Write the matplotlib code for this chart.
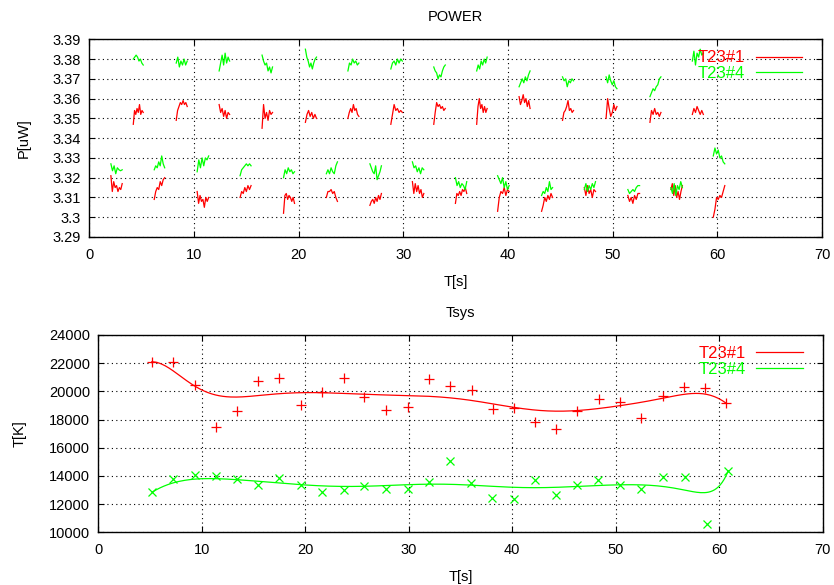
import numpy as np
import matplotlib
matplotlib.use('Agg')
import matplotlib.pyplot as plt
from math import comb

plt.rcParams['font.family'] = ['Liberation Sans', 'DejaVu Sans']
plt.rcParams['font.size'] = 10.5

RED = '#ff0000'
GREEN = '#00ff00'

## POWER data: chopped segments, start/end time [s] and readings [uW]
seg_start = [2.06, 4.2, 6.2, 8.3, 10.3, 12.4, 14.4, 16.5, 18.55, 20.64,
             22.64, 24.7, 26.8, 28.8, 30.86, 32.9, 34.97, 37.0, 39.0, 41.05,
             43.2, 45.2, 47.28, 49.36, 51.44, 53.55, 55.55, 57.6, 59.6]
seg_end = [3.14, 5.15, 7.2, 9.35, 11.4, 13.4, 15.45, 17.5, 19.6, 21.7,
           23.7, 25.75, 27.9, 29.9, 31.95, 34.0, 36.05, 38.0, 40.1, 42.1,
           44.25, 46.25, 48.35, 50.4, 52.56, 54.6, 56.65, 58.65, 60.7]

power_t23_1 = [
    [3.321, 3.313, 3.318, 3.315, 3.316, 3.313, 3.315, 3.314, 3.317],
    [3.347, 3.354, 3.352, 3.355, 3.353, 3.357, 3.352, 3.354, 3.353],
    [3.309, 3.313, 3.315, 3.314, 3.318, 3.316, 3.319, 3.320],
    [3.349, 3.354, 3.356, 3.358, 3.357, 3.359, 3.357, 3.358, 3.356],
    [3.313, 3.307, 3.311, 3.308, 3.309, 3.305, 3.310, 3.308, 3.310],
    [3.357, 3.353, 3.355, 3.351, 3.354, 3.350, 3.353, 3.352],
    [3.310, 3.313, 3.312, 3.315, 3.313, 3.316, 3.314, 3.316],
    [3.345, 3.357, 3.350, 3.353, 3.349, 3.354, 3.352, 3.353],
    [3.302, 3.311, 3.312, 3.309, 3.311, 3.310, 3.308, 3.310, 3.307],
    [3.348, 3.352, 3.354, 3.351, 3.353, 3.350, 3.352, 3.350],
    [3.310, 3.313, 3.313, 3.314, 3.312, 3.313, 3.310, 3.308],
    [3.350, 3.353, 3.355, 3.353, 3.357, 3.354, 3.355, 3.352, 3.351],
    [3.306, 3.308, 3.309, 3.307, 3.310, 3.308, 3.311, 3.309, 3.312],
    [3.347, 3.352, 3.357, 3.354, 3.355, 3.353, 3.354, 3.353],
    [3.318, 3.312, 3.317, 3.313, 3.316, 3.312, 3.314, 3.310, 3.312],
    [3.347, 3.353, 3.358, 3.356, 3.357, 3.355, 3.356, 3.354, 3.355],
    [3.307, 3.312, 3.311, 3.313, 3.311, 3.314, 3.313, 3.315, 3.312],
    [3.347, 3.356, 3.360, 3.355, 3.357, 3.353, 3.356, 3.353, 3.355],
    [3.303, 3.310, 3.313, 3.312, 3.315, 3.311, 3.314, 3.313],
    [3.361, 3.357, 3.359, 3.362, 3.358, 3.360, 3.356, 3.359, 3.355],
    [3.303, 3.306, 3.310, 3.308, 3.311, 3.309, 3.312, 3.310],
    [3.349, 3.353, 3.354, 3.356, 3.359, 3.354, 3.355, 3.353, 3.354],
    [3.315, 3.311, 3.316, 3.312, 3.314, 3.310, 3.314, 3.313],
    [3.350, 3.360, 3.355, 3.351, 3.353, 3.357, 3.354, 3.356],
    [3.311, 3.308, 3.310, 3.307, 3.311, 3.309, 3.312, 3.312],
    [3.348, 3.354, 3.352, 3.355, 3.352, 3.353, 3.351, 3.353],
    [3.314, 3.317, 3.311, 3.316, 3.310, 3.313, 3.309, 3.313, 3.316],
    [3.352, 3.355, 3.353, 3.356, 3.354, 3.352, 3.354, 3.352],
    [3.300, 3.304, 3.310, 3.309, 3.311, 3.310, 3.313, 3.316],
]

power_t23_4 = [
    [3.327, 3.3235, 3.326, 3.322, 3.325, 3.324, 3.3235, 3.324],
    [3.380, 3.381, 3.382, 3.381, 3.379, 3.380, 3.378, 3.377],
    [3.324, 3.326, 3.325, 3.328, 3.326, 3.331, 3.327, 3.325],
    [3.378, 3.381, 3.376, 3.379, 3.377, 3.380, 3.377, 3.379],
    [3.323, 3.329, 3.325, 3.330, 3.326, 3.330, 3.329, 3.331],
    [3.374, 3.378, 3.382, 3.377, 3.383, 3.378, 3.381, 3.379],
    [3.321, 3.324, 3.325, 3.326, 3.327, 3.326, 3.327, 3.326],
    [3.382, 3.379, 3.377, 3.378, 3.374, 3.376, 3.373, 3.376],
    [3.320, 3.324, 3.322, 3.325, 3.323, 3.324, 3.322, 3.323],
    [3.385, 3.381, 3.379, 3.376, 3.378, 3.375, 3.378, 3.380, 3.381],
    [3.322, 3.324, 3.322, 3.325, 3.323, 3.322, 3.326, 3.328],
    [3.374, 3.378, 3.377, 3.380, 3.378, 3.379, 3.377, 3.378],
    [3.327, 3.325, 3.323, 3.322, 3.326, 3.319, 3.321, 3.323, 3.326],
    [3.375, 3.378, 3.379, 3.377, 3.380, 3.378, 3.380, 3.379],
    [3.328, 3.325, 3.326, 3.323, 3.325, 3.322, 3.325, 3.324],
    [3.376, 3.374, 3.373, 3.370, 3.372, 3.371, 3.374, 3.376, 3.377],
    [3.320, 3.316, 3.318, 3.315, 3.317, 3.316, 3.314, 3.318],
    [3.374, 3.377, 3.375, 3.379, 3.377, 3.380, 3.378, 3.381],
    [3.321, 3.319, 3.317, 3.320, 3.315, 3.318, 3.314, 3.316],
    [3.366, 3.368, 3.370, 3.368, 3.371, 3.369, 3.372, 3.374],
    [3.311, 3.313, 3.312, 3.315, 3.313, 3.318, 3.314, 3.315],
    [3.371, 3.369, 3.370, 3.366, 3.369, 3.368, 3.370, 3.369],
    [3.314, 3.317, 3.313, 3.316, 3.314, 3.317, 3.315, 3.318],
    [3.371, 3.368, 3.372, 3.369, 3.367, 3.369, 3.366, 3.365],
    [3.314, 3.312, 3.313, 3.314, 3.313, 3.315, 3.316, 3.316],
    [3.361, 3.363, 3.365, 3.364, 3.366, 3.367, 3.370, 3.371],
    [3.315, 3.312, 3.317, 3.311, 3.316, 3.314, 3.318, 3.315],
    [3.379, 3.384, 3.377, 3.383, 3.381, 3.385, 3.382, 3.383],
    [3.331, 3.335, 3.332, 3.334, 3.330, 3.331, 3.328, 3.327],
]

## Tsys data
tsys_t1 = [5.16, 7.23, 9.32, 11.35, 13.39, 15.45, 17.48, 19.58, 21.61, 23.71,
           25.71, 27.8, 29.9, 31.94, 34.0, 36.1, 38.13, 40.13, 42.23, 44.26,
           46.29, 48.39, 50.42, 52.45, 54.52, 56.61, 58.61, 60.65]
tsys_1 = [22095, 22095, 20425, 17500, 18590, 20757, 20970, 19054, 19930, 20970,
          19620, 18660, 18900, 20850, 20380, 20070, 18770, 18840, 17830, 17310,
          18620, 19430, 19270, 18090, 19670, 20310, 20260, 19170]
tsys_t4 = [5.23, 7.23, 9.32, 11.35, 13.39, 15.45, 17.48, 19.58, 21.61, 23.71,
           25.71, 27.8, 29.9, 31.94, 34.0, 36.03, 38.03, 40.13, 42.23, 44.19,
           46.23, 48.32, 50.38, 52.45, 54.58, 56.68, 58.77, 60.87]
tsys_4 = [12860, 13760, 14090, 14000, 13760, 13340, 13880, 13380, 12860, 12980,
          13290, 13050, 13050, 13570, 15060, 13480, 12460, 12340, 13720, 12630,
          13360, 13690, 13360, 13080, 13950, 13950, 10590, 14360]


def segments(values):
    # join segments with nan gaps so one line = one legend entry
    xs, ys = [], []
    for t0, t1, v in zip(seg_start, seg_end, values):
        xs += list(np.linspace(t0, t1, len(v))) + [np.nan]
        ys += list(v) + [np.nan]
    return xs, ys


def bezier(x, y, n_out=300):
    # same as gnuplot 'smooth bezier'
    n = len(x) - 1
    s = np.linspace(0, 1, n_out)
    bx = np.zeros(n_out)
    by = np.zeros(n_out)
    for i in range(n + 1):
        b = comb(n, i) * s**i * (1 - s)**(n - i)
        bx += b * x[i]
        by += b * y[i]
    return bx, by


def style(ax):
    ax.grid(True, color='black', linestyle=(0, (1, 3)), linewidth=0.8)
    ax.tick_params(direction='in', top=True, right=True, length=4, width=0.8)
    ax.tick_params(axis='x', pad=8)
    ax.tick_params(axis='y', pad=6)
    for sp in ax.spines.values():
        sp.set_linewidth(1.0)
    ax.set_xlim(0, 70)
    ax.set_xticks(range(0, 71, 10))


def legend(ax, x_anchor):
    ax.legend(loc='upper right', bbox_to_anchor=(x_anchor, 1.02), frameon=False,
              markerfirst=False, labelcolor='linecolor', handlelength=2.8,
              handletextpad=0.65, labelspacing=0.05, fontsize=12)


fig = plt.figure(figsize=(8.34, 5.85), dpi=100)

## POWER
ax1 = fig.add_axes([0.1071, 0.5949, 0.8787, 0.3379])
x, y = segments(power_t23_1)
ax1.plot(x, y, color=RED, lw=0.9, label='T23#1')
x, y = segments(power_t23_4)
ax1.plot(x, y, color=GREEN, lw=0.9, label='T23#4')
style(ax1)
ax1.set_ylim(3.29, 3.39)
ax1.set_yticks(np.arange(3.29, 3.3901, 0.01))
ax1.set_yticklabels(['3.29', '3.3', '3.31', '3.32', '3.33', '3.34', '3.35',
                     '3.36', '3.37', '3.38', '3.39'])
ax1.set_title('POWER', fontsize=10.5, pad=13)
ax1.set_xlabel('T[s]', labelpad=9)
ax1.set_ylabel('P[uW]', labelpad=16)
legend(ax1, 0.9935)

## Tsys
ax2 = fig.add_axes([0.1179, 0.0901, 0.8686, 0.3373])
ax2.plot(tsys_t1, tsys_1, '+', color=RED, ms=7, mew=0.9)
ax2.plot(tsys_t4, tsys_4, 'x', color=GREEN, ms=6, mew=0.9)
bx, by = bezier(tsys_t1, tsys_1)
ax2.plot(bx, by, color=RED, lw=0.9, label='T23#1')
bx, by = bezier(tsys_t4, tsys_4)
ax2.plot(bx, by, color=GREEN, lw=0.9, label='T23#4')
style(ax2)
ax2.set_ylim(10000, 24000)
ax2.set_yticks(range(10000, 24001, 2000))
ax2.set_title('Tsys', fontsize=10.5, pad=13)
ax2.set_xlabel('T[s]', labelpad=9)
ax2.set_ylabel('T[K]', labelpad=16)
legend(ax2, 0.9934)

plt.savefig('out.png', dpi=100)
